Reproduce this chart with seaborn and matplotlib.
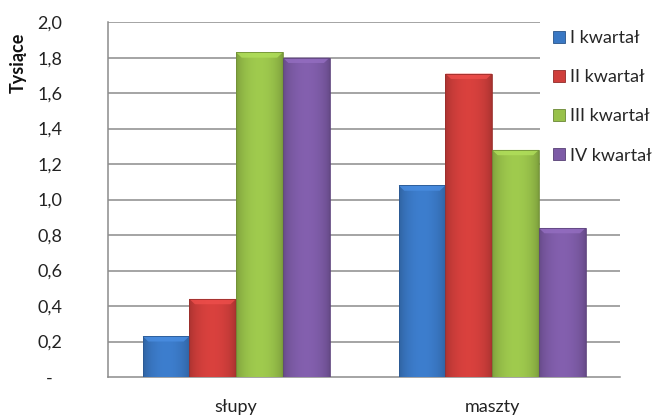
import numpy as np
import pandas as pd
import matplotlib
matplotlib.use('Agg')
import matplotlib.pyplot as plt
import matplotlib.patches as mpatches
import matplotlib.colors as mcolors
import seaborn as sns

# Dane
kategorie = ['słupy', 'maszty']
serie = ['I kwartał', 'II kwartał', 'III kwartał', 'IV kwartał']
wartosci = {
    'I kwartał': [0.23, 1.08],
    'II kwartał': [0.44, 1.71],
    'III kwartał': [1.83, 1.28],
    'IV kwartał': [1.80, 0.84],
}
kolory = ['#3A78C4', '#CF3E3B', '#98C14A', '#7D5BA6']
y_ticks = [0.0, 0.2, 0.4, 0.6, 0.8, 1.0, 1.2, 1.4, 1.6, 1.8, 2.0]
y_labels = ['-', '0,2', '0,4', '0,6', '0,8', '1,0', '1,2', '1,4', '1,6', '1,8', '2,0']

df = pd.DataFrame([
    {'kategoria': k, 'seria': s, 'wartosc': wartosci[s][i]}
    for s in serie for i, k in enumerate(kategorie)
])

sns.set_style('white')
plt.rcParams['font.family'] = ['Lato', 'DejaVu Sans']
fs = 13

fig = plt.figure(figsize=(6.59, 4.15), dpi=100)
ax = fig.add_axes([0.164, 0.0916, 0.777, 0.855])

# siatka
for t in y_ticks[1:]:
    ax.axhline(t, color='#8C8C8C', lw=1.1, zorder=0)

sns.barplot(data=df, x='kategoria', y='wartosc', hue='seria', order=kategorie,
            hue_order=serie, palette=kolory, width=0.73, gap=0, saturation=1,
            edgecolor='none', ax=ax, legend=False, zorder=2)

# efekt gradientu na słupkach
for patch in list(ax.patches):
    x, y = patch.get_x(), patch.get_y()
    w, h = patch.get_width(), patch.get_height()
    base = np.array(mcolors.to_rgb(patch.get_facecolor()))
    xs = np.linspace(0, 1, 60)
    shade = 0.8 + 0.25 * np.sin(np.pi * xs) ** 0.6
    grad = np.clip(base[None, :] * shade[:, None], 0, 1)[None, :, :]
    im = ax.imshow(grad, extent=[x, x + w, y, y + h], aspect='auto', zorder=3)
    im.set_clip_path(patch)
    # delikatnie jaśniejszy górny brzeg
    top = min(0.03, h * 0.3)
    light = np.clip(base * 1.1 + 0.04, 0, 1)
    ax.add_patch(mpatches.Polygon(
        [(x, y + h), (x + w, y + h), (x + w * 0.88, y + h - top), (x + w * 0.12, y + h - top)],
        closed=True, facecolor=light, edgecolor='none', alpha=0.8, zorder=4))
    ax.add_patch(mpatches.Rectangle((x, y), w, h, facecolor='none',
                                    edgecolor=base * 0.75, lw=0.6, zorder=5))

ax.set_xlim(-0.5, 1.5)
ax.set_ylim(0, 2.0)
ax.set_yticks(y_ticks)
ax.set_yticklabels(y_labels)
ax.set_xticks([0, 1])
ax.set_xticklabels(kategorie)
ax.set_xticks([-0.5, 0.5, 1.5], minor=True)
ax.tick_params(axis='x', which='major', length=0, pad=16, labelsize=fs, colors='#222222')
ax.tick_params(axis='x', which='minor', length=6, width=1.1, color='#8C8C8C', direction='out')
ax.tick_params(axis='y', length=6, width=1.1, color='#8C8C8C', direction='out',
               labelsize=fs, pad=36, labelcolor='#222222')
for lab in ax.get_yticklabels():
    lab.set_horizontalalignment('center')

ax.set_xlabel('')
ax.set_ylabel('')
for s in ['top', 'right']:
    ax.spines[s].set_visible(False)
ax.spines['left'].set_color('#8C8C8C')
ax.spines['bottom'].set_color('#8C8C8C')
ax.spines['left'].set_linewidth(1.1)
ax.spines['bottom'].set_linewidth(1.1)

fig.text(0.027, 0.848, 'Tysiące', rotation=90, fontsize=fs, fontweight='bold',
         ha='center', va='center', color='#111111')

# legenda
uchwyty = [mpatches.Patch(facecolor=c, edgecolor=np.array(mcolors.to_rgb(c)) * 0.7, lw=0.6)
           for c in kolory]
leg = ax.legend(uchwyty, serie, loc='upper left', bbox_to_anchor=(0.844, 1.013),
                frameon=True, fontsize=fs, handlelength=0.67, handleheight=0.67,
                handletextpad=0.28, labelspacing=1.28, borderpad=0.7, borderaxespad=0)
leg.get_frame().set_facecolor('white')
leg.get_frame().set_edgecolor('none')
leg.get_frame().set_alpha(1)
leg.set_zorder(10)

fig.savefig('out.png', dpi=100)
plt.close(fig)
